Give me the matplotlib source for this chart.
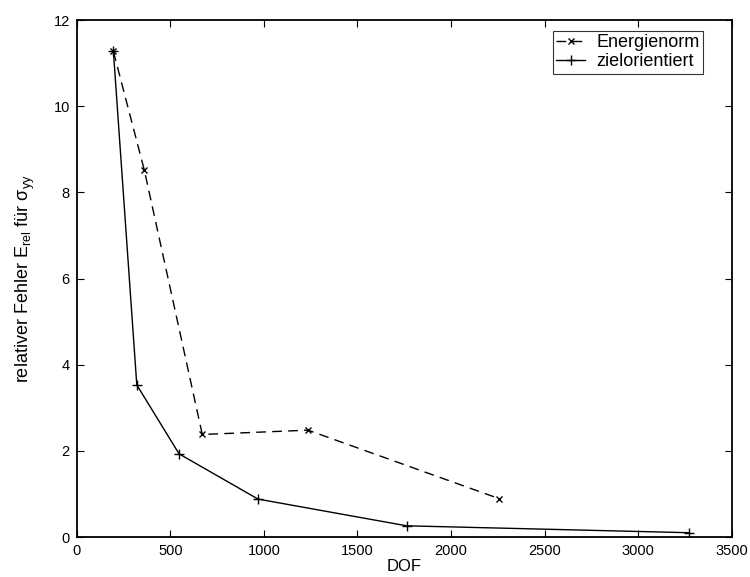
import matplotlib
matplotlib.use('Agg')
import matplotlib.pyplot as plt

plt.rcParams['font.family'] = ['Liberation Sans', 'DejaVu Sans']
plt.rcParams['mathtext.fontset'] = 'custom'
plt.rcParams['mathtext.rm'] = 'Liberation Sans'

# Energienorm (dashed, x markers)
dof_energie = [196, 361, 671, 1236, 2258]
err_energie = [11.27, 8.52, 2.38, 2.48, 0.89]

# zielorientiert (solid, + markers)
dof_ziel = [196, 321, 547, 969, 1763, 3270]
err_ziel = [11.27, 3.53, 1.93, 0.88, 0.26, 0.10]

x_ticks = [0, 500, 1000, 1500, 2000, 2500, 3000, 3500]
y_ticks = [0, 2, 4, 6, 8, 10, 12]

fig = plt.figure(figsize=(7.5, 5.77), dpi=100)
ax = fig.add_axes([0.1023, 0.0693, 0.8733, 0.896])

ax.plot(dof_energie, err_energie, color='k', linestyle='--', dashes=(7, 4.5),
        linewidth=1.0, marker='x', markersize=4.5, markeredgewidth=1.0,
        label='Energienorm')
ax.plot(dof_ziel, err_ziel, color='k', linestyle='-', linewidth=1.0,
        marker='+', markersize=6.5, markeredgewidth=1.0, label='zielorientiert')

ax.set_xlim(0, 3500)
ax.set_ylim(0, 12)
ax.set_xticks(x_ticks)
ax.set_yticks(y_ticks)
ax.tick_params(direction='in', top=True, right=True, length=5, width=0.8,
               labelsize=10.5, pad=5)
for s in ax.spines.values():
    s.set_linewidth(1.3)

ax.set_xlabel('DOF', fontsize=12, labelpad=1)
ax.set_ylabel('relativer Fehler E$_{\\mathrm{rel}}$ für σ$_{\\mathrm{yy}}$',
              fontsize=13, labelpad=12)

leg = ax.legend(loc='upper right', bbox_to_anchor=(0.956, 0.979),
                fontsize=13, frameon=True, fancybox=False, handlelength=1.6,
                handletextpad=0.6, borderpad=0.2, labelspacing=0.1,
                borderaxespad=0)
leg.get_frame().set_edgecolor('k')
leg.get_frame().set_linewidth(0.8)

fig.savefig('out.png', dpi=100)
